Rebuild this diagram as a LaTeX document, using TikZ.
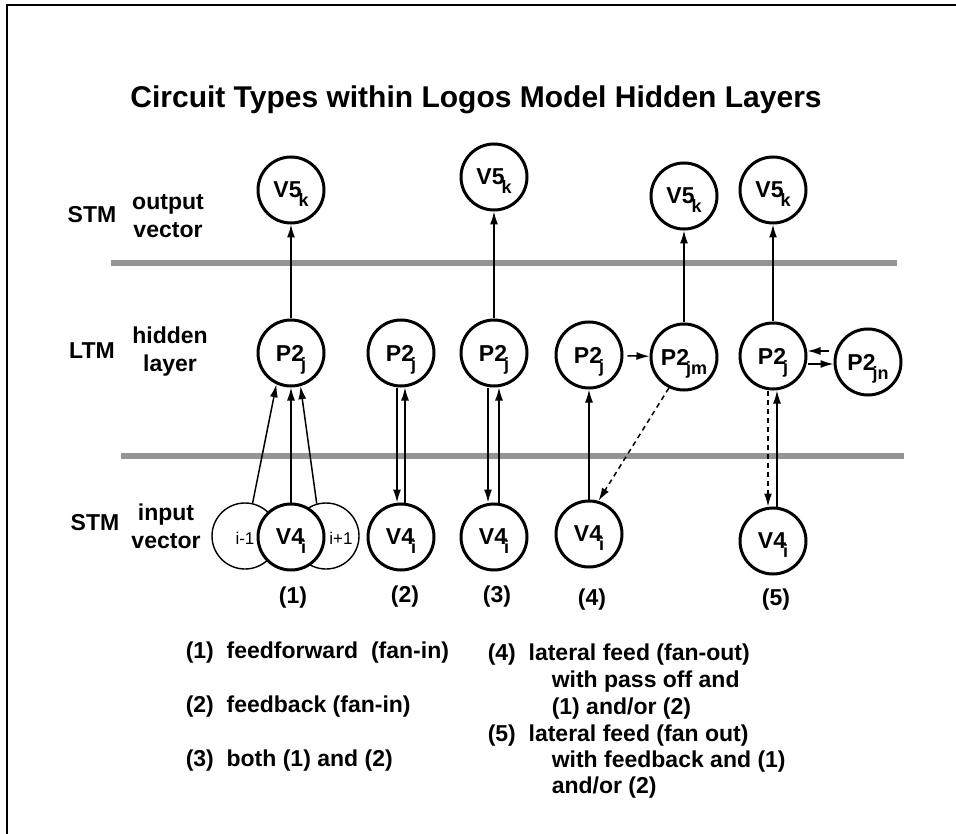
\documentclass[tikz,border=0pt]{standalone}
\usepackage{fontspec}
\setmainfont{Liberation Sans}
\usetikzlibrary{arrows.meta}
\newcommand{\lowsub}[1]{\kern-3pt\raisebox{-9pt}[0pt][0pt]{\fontsize{18}{18}\selectfont #1}}

\begin{document}
\begin{tikzpicture}[x=1pt,y=-1pt,>={Latex[length=13pt,width=8pt]},line width=1.5pt,
  font=\bfseries\fontsize{23}{28}\selectfont,
  unit/.style={circle,draw,fill=white,line width=3pt,minimum size=66pt,inner sep=0pt},
  nbr/.style={circle,draw,line width=1.4pt,minimum size=66pt,inner sep=0pt},
  nbrtext/.style={font=\mdseries\fontsize{17}{17}\selectfont},
  band/.style={black!42,line width=6pt},
  lat/.style={dash pattern=on 5pt off 4pt},
  legend/.style={anchor=base west,inner sep=0pt}]
  \useasboundingbox (0,0) rectangle (956,834);

  % 边框与标题
  \draw[line width=2.5pt] (7,834) -- (7,5) -- (956,5);
  \node (title) at (476,100) {\fontsize{30}{36}\selectfont Circuit Types within Logos Model Hidden Layers};

  % 分层
  \draw[band] (111,263) -- (897,263);
  \draw[band] (121,456) -- (904,456);
  \node (stmout) at (92,215) {STM};
  \node[align=center] (outvec) at (168,216) {output\\vector};
  \node (ltm) at (92,351) {LTM};
  \node[align=center] (hidlay) at (170,352) {hidden\\layer};
  \node (stmin) at (95,523) {STM};
  \node[align=center] (invec) at (166,526) {input\\vector};

  % 输出层
  \node[unit] (v5a) at (291,190) {V5\lowsub{k}};
  \node[unit] (v5c) at (494,177) {V5\lowsub{k}};
  \node[unit] (v5d) at (684,196) {V5\lowsub{k}};
  \node[unit] (v5e) at (773,190) {V5\lowsub{k}};

  % 隐层
  \node[unit] (p2a) at (291,353) {P2\lowsub{j}};
  \node[unit] (p2b) at (401,353) {P2\lowsub{j}};
  \node[unit] (p2c) at (494,353) {P2\lowsub{j}};
  \node[unit] (p2d) at (589,355) {P2\lowsub{j}};
  \node[unit] (p2jm) at (684,357) {P2\lowsub{jm}};
  \node[unit] (p2e) at (773,356) {P2\lowsub{j}};
  \node[unit] (p2jn) at (868,362) {P2\lowsub{jn}};

  % 输入层
  \node[nbr] (nba) at (245,536) {};
  \node[nbr] (nbb) at (326,536) {};
  \node[nbrtext] (nbatext) at (245,538) {i-1};
  \node[nbrtext] (nbbtext) at (341,538) {i+1};
  \node[unit] (v4a) at (291,537) {V4\lowsub{i}};
  \node[unit] (v4b) at (401,537) {V4\lowsub{i}};
  \node[unit] (v4c) at (494,537) {V4\lowsub{i}};
  \node[unit] (v4d) at (589,534) {V4\lowsub{i}};
  \node[unit] (v4e) at (773,541) {V4\lowsub{i}};

  % (1)
  \draw[->] (nba.77) -- (p2a.245);
  \draw[->] (v4a) -- (p2a);
  \draw[->] (nbb.106) -- (p2a.286);
  \draw[->] (p2a) -- (v5a);

  % (2)
  \draw[->] ([xshift=-4pt]p2b.south) -- ([xshift=-4pt]v4b.north);
  \draw[->] ([xshift=4pt]v4b.north) -- ([xshift=4pt]p2b.south);

  % (3)
  \draw[->] ([xshift=-6pt]p2c.south) -- ([xshift=-6pt]v4c.north);
  \draw[->] ([xshift=5pt]v4c.north) -- ([xshift=5pt]p2c.south);
  \draw[->] (p2c) -- (v5c);

  % (4)
  \draw[->] (v4d) -- (p2d);
  \draw[->,shorten <=4pt] (p2d) -- (p2jm);
  \draw[->,lat] (p2jm.244) -- (v4d.74);
  \draw[->] (p2jm) -- (v5d);

  % (5)
  \draw[->] (p2e) -- (v5e);
  \draw[->,shorten <=5pt] (p2jn.west |- 0,351) -- (p2e.east |- 0,351);
  \draw[->] (p2e.east |- 0,364) -- (p2jn.west |- 0,364);
  \draw[->,lat] ([xshift=-5pt]p2e.south) -- ([xshift=-5pt]v4e.north);
  \draw[->] ([xshift=4pt]v4e.north) -- ([xshift=4pt]p2e.south);

  % 编号
  \node (lab1) at (293,598) {(1)};
  \node (lab2) at (405,597) {(2)};
  \node (lab3) at (497,597) {(3)};
  \node (lab4) at (592,600) {(4)};
  \node (lab5) at (776,600) {(5)};

  % 图例
  \node[legend] (leg1) at (185,658) {(1)\ \ feedforward\ \ (fan-in)};
  \node[legend] (leg2) at (185,712) {(2)\ \ feedback (fan-in)};
  \node[legend] (leg3) at (185,766) {(3)\ \ both (1) and (2)};
  \node[legend] (leg4) at (487,660) {(4)\ \ lateral feed (fan-out)};
  \node[legend] (leg4b) at (551,687) {with pass off and};
  \node[legend] (leg4c) at (551,714) {(1) and/or (2)};
  \node[legend] (leg5) at (487,741) {(5)\ \ lateral feed (fan out)};
  \node[legend] (leg5b) at (551,767) {with feedback and (1)};
  \node[legend] (leg5c) at (551,793) {and/or (2)};
\end{tikzpicture}
\end{document}
